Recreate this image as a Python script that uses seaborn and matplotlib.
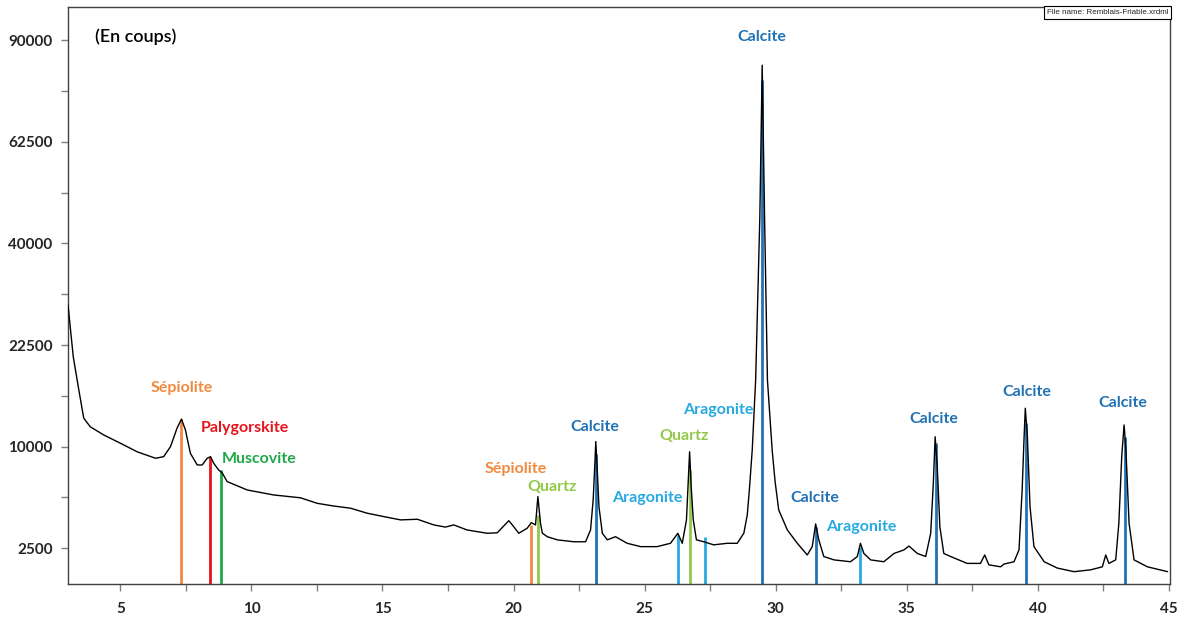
import numpy as np
import pandas as pd
import seaborn as sns
import matplotlib.pyplot as plt

# diffractogram (2theta, counts)
two_theta = [3.00, 3.20, 3.41, 3.60, 3.85, 4.36, 5.00, 5.64, 6.34, 6.65, 6.91, 7.16, 7.33,
             7.48, 7.67, 7.93, 8.12, 8.31, 8.44, 8.56, 8.75, 8.88, 9.07, 9.84, 10.85, 11.87,
             12.51, 13.14, 13.78, 14.42, 15.05, 15.69, 16.33, 16.96, 17.40, 17.72, 18.23,
             19.00, 19.38, 19.63, 19.82, 20.01, 20.20, 20.52, 20.68, 20.84, 20.93, 21.03,
             21.10, 21.29, 21.67, 22.30, 22.75, 22.94, 23.04, 23.10, 23.14, 23.19, 23.26,
             23.39, 23.58, 23.89, 24.34, 24.85, 25.48, 25.99, 26.27, 26.44, 26.60, 26.72,
             26.78, 26.86, 26.98, 27.26, 27.64, 28.15, 28.54, 28.79, 28.92, 29.00, 29.11,
             29.24, 29.40, 29.49, 29.58, 29.69, 29.87, 29.98, 30.12, 30.45, 30.83, 31.21,
             31.40, 31.53, 31.65, 31.84, 32.23, 32.86, 33.12, 33.24, 33.37, 33.63, 34.13,
             34.52, 34.90, 35.09, 35.41, 35.73, 35.92, 36.02, 36.09, 36.17, 36.27, 36.42,
             36.68, 37.31, 37.82, 37.98, 38.14, 38.59, 38.71, 39.10, 39.29, 39.41, 39.48,
             39.53, 39.61, 39.71, 39.86, 40.25, 40.75, 41.39, 42.02, 42.47, 42.60, 42.72,
             42.98, 43.10, 43.21, 43.30, 43.37, 43.49, 43.68, 44.19, 44.96]
counts = [28800, 20800, 16400, 13000, 12050, 11190, 10340, 9500, 8890, 9040, 10000, 11900, 12900,
          11710, 9350, 8280, 8280, 8890, 9040, 8430, 7830, 7600, 6860, 6190, 5810, 5600,
          5200, 5010, 4860, 4520, 4300, 4090, 4130, 3780, 3650, 3780, 3480,
          3290, 3320, 3720, 4040, 3670, 3290, 3580, 3920, 3780, 5690, 3880,
          3300, 3100, 2930, 2830, 2830, 3480, 5450, 8140, 10510, 8140, 4970,
          3290, 2930, 3100, 2750, 2580, 2580, 2750, 3290, 2750, 4090, 9500,
          6450, 4090, 2930, 2830, 2670, 2750, 2750, 3300, 4410, 6200, 9690,
          17640, 45460, 82800, 45460, 17640, 9690, 6900, 4740, 3480, 2750, 2180,
          2580, 3840, 2930, 2110, 1960, 1880, 2110, 2750, 2250, 1960, 1880,
          2250, 2420, 2610, 2250, 2110, 3290, 6720, 11000, 8140, 3670, 2250,
          2110, 1810, 1810, 2180, 1750, 1670, 1780, 1880, 2420, 6200, 10670,
          14140, 11000, 4970, 2580, 1880, 1620, 1480, 1550, 1670, 2180, 1810,
          1960, 3880, 9040, 12250, 9690, 3880, 1960, 1670, 1480]

# reference sticks (phase, position, height)
stick_phase = ['Sépiolite', 'Palygorskite', 'Muscovite', 'Sépiolite', 'Quartz', 'Calcite',
               'Aragonite', 'Quartz', 'Aragonite', 'Calcite', 'Calcite', 'Aragonite',
               'Calcite', 'Calcite', 'Calcite']
stick_pos = [7.33, 8.40, 8.85, 20.67, 20.93, 23.13, 26.28, 26.72, 27.29, 29.47, 31.53, 33.22,
             36.11, 39.57, 43.33]
stick_height = [12900, 9040, 7850, 3780, 4410, 9300, 3200, 7850, 3100, 78700, 3670, 2580,
                10340, 12430, 11000]

# phase labels (text, x, y)
label_text = ['Sépiolite', 'Palygorskite', 'Muscovite', 'Sépiolite', 'Quartz', 'Calcite',
              'Aragonite', 'Quartz', 'Aragonite', 'Calcite', 'Calcite', 'Aragonite',
              'Calcite', 'Calcite', 'Calcite']
label_x = [7.33, 9.73, 10.31, 20.08, 21.49, 23.09, 25.11, 26.49, 27.82, 29.47, 31.49, 33.28,
           36.03, 39.58, 43.24]
label_y = [16620, 11920, 8820, 7920, 6430, 12030, 5590, 11090, 13950, 90960, 5590, 3660,
           12930, 16130, 14790]

phase_colors = {'Sépiolite': '#F08A3E', 'Palygorskite': '#E8141C', 'Muscovite': '#1FA84A',
                'Quartz': '#92C84A', 'Calcite': '#2272B4', 'Aragonite': '#27A9E1'}

y_ticks = [2500, 10000, 22500, 40000, 62500, 90000]
y_minor = [5625, 15625, 30625, 50625, 75625]
x_ticks = [5, 10, 15, 20, 25, 30, 35, 40, 45]
x_minor = [7.5, 12.5, 17.5, 22.5, 27.5, 32.5, 37.5, 42.5]

sns.set_style('ticks')
plt.rcParams['font.family'] = ['Lato', 'DejaVu Sans']

fig = plt.figure(figsize=(11.85, 6.25), dpi=100)
ax = fig.add_axes([0.0574, 0.0656, 0.9299, 0.9232])

ax.set_yscale('function', functions=(np.sqrt, np.square))
ax.set_xlim(3, 45.05)
y_bottom = 1050
ax.set_ylim(y_bottom, 100100)

df = pd.DataFrame({'two_theta': two_theta, 'counts': counts})
sns.lineplot(data=df, x='two_theta', y='counts', color='black', linewidth=1.0, ax=ax,
             zorder=3)

for ph, pos, h in zip(stick_phase, stick_pos, stick_height):
    ax.vlines(pos, y_bottom, h, color=phase_colors[ph], linewidth=2.0, zorder=2)

for txt, lx, ly in zip(label_text, label_x, label_y):
    ax.text(lx, ly, txt, color=phase_colors[txt], fontsize=11.5, fontweight='bold',
            ha='center', va='center', zorder=4)

ax.text(0.0245, 0.948, '(En coups)', transform=ax.transAxes, fontsize=13,
        fontweight='semibold', ha='left', va='center', color='black')
ax.text(0.9985, 0.997, 'File name: Remblais-Friable.xrdml', transform=ax.transAxes,
        fontsize=5.8, family='Liberation Sans', ha='right', va='top',
        bbox=dict(boxstyle='square,pad=0.35', fc='white', ec='black', lw=0.8))

ax.set_yticks(y_ticks)
ax.set_yticks(y_minor, minor=True)
ax.set_yticklabels([str(v) for v in y_ticks], fontweight='bold', fontsize=11)
ax.set_xticks(x_ticks)
ax.set_xticks(x_minor, minor=True)
ax.set_xticklabels([str(v) for v in x_ticks], fontweight='bold', fontsize=11)
ax.tick_params(which='both', direction='out', length=5, color='#7f7f7f', width=1)
ax.tick_params(axis='x', pad=8)
ax.tick_params(axis='y', pad=6)
ax.set_xlabel('')
ax.set_ylabel('')
for side in ['left', 'bottom', 'top', 'right']:
    ax.spines[side].set_color('#404040')
    ax.spines[side].set_linewidth(1.0)

fig.savefig('out.png', dpi=100)
